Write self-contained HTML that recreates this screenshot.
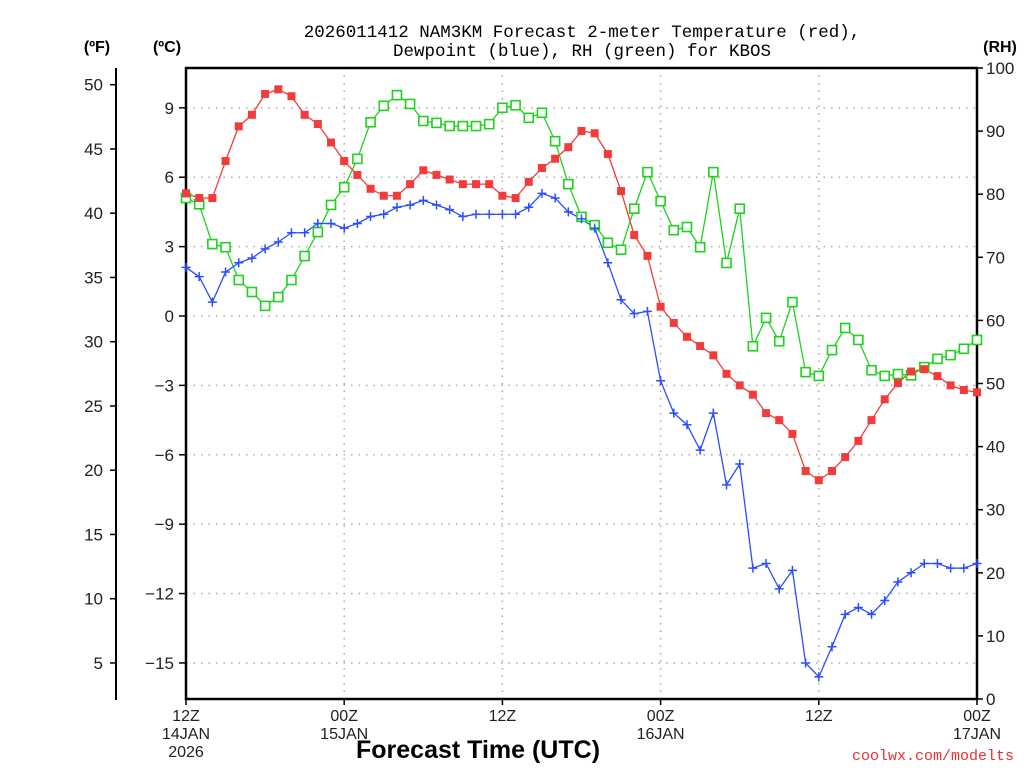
<!DOCTYPE html>
<html><head><meta charset="utf-8"><style>
html,body{margin:0;padding:0;background:#fff;}
svg{display:block;}
text{font-family:"Liberation Sans",sans-serif;}
</style></head><body>
<svg id="chart" width="1024" height="768" viewBox="0 0 1024 768">
<text x="582" y="37" text-anchor="middle" fill="#000" style="font-family:'Liberation Mono',monospace;font-size:17.5px">2026011412 NAM3KM Forecast 2-meter Temperature (red),</text>
<text x="582" y="56" text-anchor="middle" fill="#000" style="font-family:'Liberation Mono',monospace;font-size:17.5px">Dewpoint (blue), RH (green) for KBOS</text>
<text x="97" y="52" text-anchor="middle" font-size="16" font-weight="bold">(ºF)</text>
<text x="167" y="52" text-anchor="middle" font-size="16" font-weight="bold">(ºC)</text>
<text x="1000" y="52" text-anchor="middle" font-size="16" font-weight="bold">(RH)</text>
<text x="478" y="758" text-anchor="middle" font-size="25" font-weight="bold">Forecast Time (UTC)</text>
<text x="1014" y="760" text-anchor="end" fill="#e83030" style="font-family:'Liberation Mono',monospace;font-size:15px">coolwx.com/modelts</text>
<g id="grid"></g><g id="axes"></g><g id="series"></g>
</svg>
<script>
const hours=[...Array(61).keys()];
const tempC=[5.3,5.1,5.1,6.7,8.2,8.7,9.6,9.8,9.5,8.7,8.3,7.5,6.7,6.1,5.5,5.2,5.2,5.7,6.3,6.1,5.9,5.7,5.7,5.7,5.2,5.1,5.8,6.4,6.8,7.3,8.0,7.9,7.0,5.4,3.5,2.6,0.4,-0.3,-0.9,-1.3,-1.7,-2.5,-3.0,-3.4,-4.2,-4.5,-5.1,-6.7,-7.1,-6.7,-6.1,-5.4,-4.5,-3.6,-2.9,-2.4,-2.3,-2.6,-3.0,-3.2,-3.3];
const dewC=[2.1,1.7,0.6,1.9,2.3,2.5,2.9,3.2,3.6,3.6,4.0,4.0,3.8,4.0,4.3,4.4,4.7,4.8,5.0,4.8,4.6,4.3,4.4,4.4,4.4,4.4,4.7,5.3,5.1,4.5,4.2,3.8,2.3,0.7,0.1,0.2,-2.8,-4.2,-4.7,-5.8,-4.2,-7.3,-6.4,-10.9,-10.7,-11.8,-11.0,-15.0,-15.6,-14.3,-12.9,-12.6,-12.9,-12.3,-11.5,-11.1,-10.7,-10.7,-10.9,-10.9,-10.7];
const rh=[79.4,78.4,72.1,71.6,66.4,64.5,62.3,63.7,66.4,70.2,74.0,78.3,81.1,85.6,91.4,94.0,95.7,94.3,91.6,91.3,90.8,90.8,90.8,91.1,93.7,94.1,92.1,92.9,88.4,81.6,76.4,75.1,72.3,71.2,77.7,83.5,78.9,74.3,74.8,71.6,83.5,69.1,77.7,55.9,60.4,56.7,62.9,51.8,51.2,55.3,58.8,56.9,52.1,51.2,51.5,51.3,52.6,53.9,54.5,55.5,56.9];
const cTicks=[9,6,3,0,-3,-6,-9,-12,-15];
const fTicks=[50,45,40,35,30,25,20,15,10,5];
const rhTicks=[0,10,20,30,40,50,60,70,80,90,100];
const xTickHours=[0,12,24,36,48,60];
const xTickLabels=[["12Z","14JAN","2026"],["00Z","15JAN"],["12Z"],["00Z","16JAN"],["12Z"],["00Z","17JAN"]];
const L=186,R=977,T=68,B=699;
const xS=h=>L+(R-L)*h/60;
const yC=c=>316-c*23.13;
const yF=f=>yC((f-32)*5/9);
const yRH=v=>B-(B-T)*v/100;
const NS='http://www.w3.org/2000/svg';
function mk(tag,attrs,parent){const e=document.createElementNS(NS,tag);for(const k in attrs)e.setAttribute(k,attrs[k]);parent.appendChild(e);return e;}
const grid=document.getElementById('grid'),axes=document.getElementById('axes'),ser=document.getElementById('series');
cTicks.forEach(c=>{const y=yC(c);
 const g=mk('line',{x1:L,x2:R,y1:y,y2:y,stroke:'#aaa','stroke-width':1.5,'stroke-dasharray':'1.5 6'},grid);
 
 const t=mk('line',{x1:L-7,x2:L,y1:y,y2:y,stroke:'#000','stroke-width':1.5},axes);
 
 const tx=mk('text',{x:L-12,y:y+6,'text-anchor':'end','font-size':17,fill:'#222'},axes);tx.textContent=c<0?'\u2212'+(-c):String(c);
 });
xTickHours.forEach((h,i)=>{const x=xS(h);
 if(h>0&&h<60){const g=mk('line',{x1:x,x2:x,y1:T,y2:B,stroke:'#aaa','stroke-width':1.5,'stroke-dasharray':'1.5 6'},grid);
 }
 const t=mk('line',{x1:x,x2:x,y1:B,y2:B+6,stroke:'#000','stroke-width':1.5},axes);
 
 xTickLabels[i].forEach((s,j)=>{const tx=mk('text',{x:x,y:721+j*18,'text-anchor':'middle','font-size':16,fill:'#222'},axes);tx.textContent=s;
 });});
fTicks.forEach(f=>{const y=yF(f);
 const t=mk('line',{x1:110,x2:116,y1:y,y2:y,stroke:'#000','stroke-width':1.5},axes);
 
 const tx=mk('text',{x:103,y:y+6,'text-anchor':'end','font-size':17,fill:'#222'},axes);tx.textContent=f;
 });
rhTicks.forEach(v=>{const y=yRH(v);
 const t=mk('line',{x1:R,x2:R+6,y1:y,y2:y,stroke:'#000','stroke-width':1.5},axes);
 
 const tx=mk('text',{x:R+9,y:y+6,'font-size':17,fill:'#222'},axes);tx.textContent=v;
 });
const fa=mk('line',{x1:116,x2:116,y1:T,y2:B+1,stroke:'#000','stroke-width':2},axes);

const fr=mk('rect',{x:L,y:T,width:R-L,height:B-T,fill:'none',stroke:'#000','stroke-width':2.5},axes);

function line(vals,yf,color,name){const p=mk('polyline',{points:vals.map((v,i)=>xS(hours[i])+','+yf(v)).join(' '),fill:'none',stroke:color,'stroke-width':1.3},ser);
 }
line(rh,yRH,'#1ed21e','rh-line');
line(dewC,yC,'#2a4dff','dewpoint-line');
line(tempC,yC,'#f23c3c','temperature-line');
rh.forEach((v,i)=>{const m=mk('rect',{x:xS(hours[i])-4.5,y:yRH(v)-4.5,width:9,height:9,fill:'#fff',stroke:'#1ed21e','stroke-width':1.6},ser);
 });
dewC.forEach((v,i)=>{const x=xS(hours[i]),y=yC(v);
 const m=mk('path',{d:`M${x-4.5},${y}H${x+4.5}M${x},${y-4.5}V${y+4.5}`,stroke:'#2a4dff','stroke-width':1.5},ser);
 });
tempC.forEach((v,i)=>{const m=mk('rect',{x:xS(hours[i])-4,y:yC(v)-4,width:8,height:8,fill:'#f23c3c'},ser);
 });
</script>
</body></html>
